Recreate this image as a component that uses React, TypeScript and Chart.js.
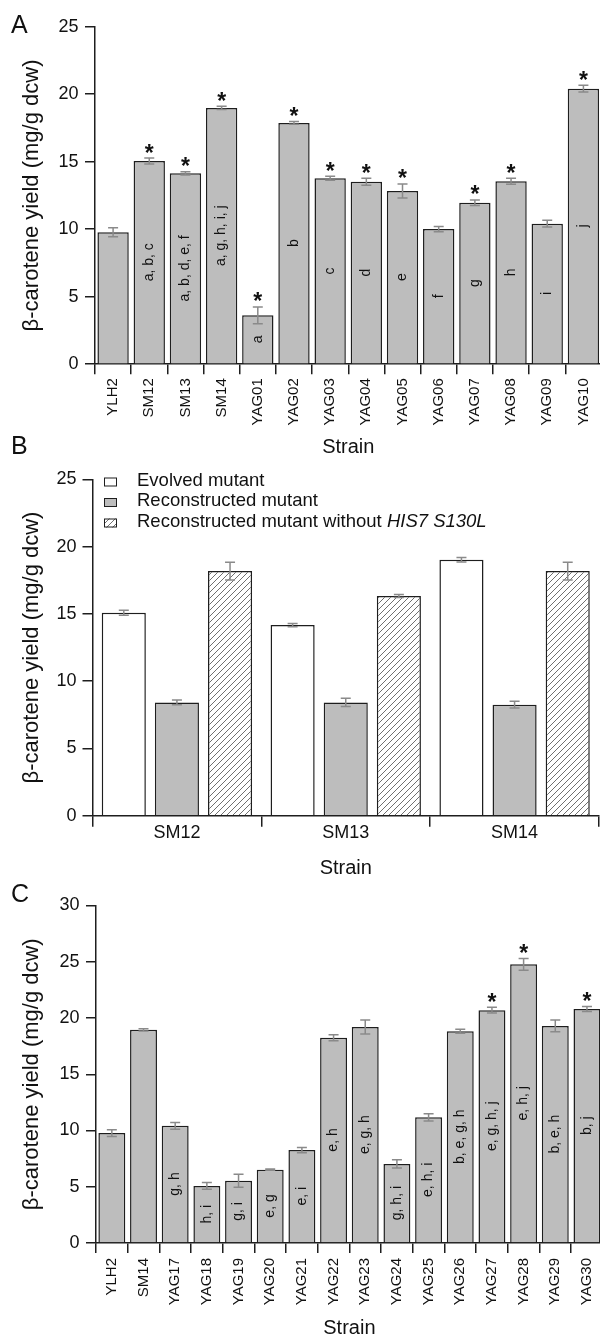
import React, { useEffect, useRef } from "react";
import { Chart, registerables } from "chart.js";

Chart.register(...registerables);

const FONT = "'Liberation Sans', Arial, Helvetica, sans-serif";
const AXIS = "#1e1e1e";
const TEXT = "#111111";
const GRAY = "#bdbdbd";
const ERR = "#8a8a8a";

// ---------- Panel A ----------
const strainsA = ["YLH2", "SM12", "SM13", "SM14", "YAG01", "YAG02", "YAG03", "YAG04", "YAG05", "YAG06", "YAG07", "YAG08", "YAG09", "YAG10"];
const yieldA = [9.77, 15.05, 14.14, 18.98, 3.62, 17.87, 13.77, 13.52, 12.83, 10.01, 11.96, 13.55, 10.41, 20.41];
const errA = [0.33, 0.22, 0.12, 0.12, 0.62, 0.1, 0.15, 0.26, 0.52, 0.19, 0.21, 0.22, 0.25, 0.25];
const lettersA = ["", "a, b, c", "a, b, d, e, f", "a, g, h, i, j", "a", "b", "c", "d", "e", "f", "g", "h", "i", "j"];
const starredA = ["SM12", "SM13", "SM14", "YAG01", "YAG02", "YAG03", "YAG04", "YAG05", "YAG07", "YAG08", "YAG10"];
const yTicksA = [0, 5, 10, 15, 20, 25];

// ---------- Panel B ----------
const groupsB = ["SM12", "SM13", "SM14"];
const evolvedB = [15.08, 14.17, 19.02];
const evolvedErrB = [0.19, 0.12, 0.16];
const reconB = [8.42, 8.42, 8.25];
const reconErrB = [0.17, 0.31, 0.25];
const noHisB = [18.18, 16.32, 18.18];
const noHisErrB = [0.66, 0.11, 0.66];
const legendB = ["Evolved mutant", "Reconstructed mutant", "Reconstructed mutant without"];
const legendItalicB = "HIS7 S130L";
const yTicksB = [0, 5, 10, 15, 20, 25];

// ---------- Panel C ----------
const strainsC = ["YLH2", "SM14", "YAG17", "YAG18", "YAG19", "YAG20", "YAG21", "YAG22", "YAG23", "YAG24", "YAG25", "YAG26", "YAG27", "YAG28", "YAG29", "YAG30"];
const yieldC = [9.77, 18.95, 10.42, 5.07, 5.54, 6.52, 8.26, 18.25, 19.2, 7.03, 11.17, 18.83, 20.7, 24.77, 19.3, 20.8];
const errC = [0.3, 0.1, 0.3, 0.3, 0.58, 0.05, 0.24, 0.27, 0.62, 0.37, 0.33, 0.18, 0.25, 0.52, 0.52, 0.22];
const lettersC = ["", "", "g, h", "h, i", "g, i", "e, g", "e, i", "e, h", "e, g, h", "g, h, i", "e, h, i", "b, e, g, h", "e, g, h, j", "e, h, j", "b, e, h", "b, j"];
const starredC = ["YAG27", "YAG28", "YAG30"];
const yTicksC = [0, 5, 10, 15, 20, 25, 30];

const Y_TITLE = "β-carotene yield (mg/g dcw)";
const X_TITLE = "Strain";

const errorBarPlugin = {
  id: "errorBars",
  afterDatasetsDraw(chart: any, _args: any, opts: any) {
    const ctx = chart.ctx;
    const ys = chart.scales.y;
    const cap = (opts && opts.cap) || 5;
    chart.data.datasets.forEach((ds: any, i: number) => {
      const errs = ds.errors;
      if (!errs) return;
      const meta = chart.getDatasetMeta(i);
      meta.data.forEach((bar: any, j: number) => {
        const v = ds.data[j];
        const e = errs[j];
        const t = ys.getPixelForValue(v + e);
        const b = ys.getPixelForValue(v - e);
        ctx.save();
        ctx.strokeStyle = ERR;
        ctx.lineWidth = 1.5;
        ctx.beginPath();
        ctx.moveTo(bar.x, t);
        ctx.lineTo(bar.x, b);
        ctx.moveTo(bar.x - cap, t);
        ctx.lineTo(bar.x + cap, t);
        ctx.moveTo(bar.x - cap, b);
        ctx.lineTo(bar.x + cap, b);
        ctx.stroke();
        ctx.restore();
      });
    });
  },
};

function panelLetterPlugin(letter: string, x: number, y: number) {
  return {
    id: "panelLetter" + letter,
    afterDraw(chart: any) {
      const ctx = chart.ctx;
      ctx.save();
      ctx.font = `25px ${FONT}`;
      ctx.fillStyle = TEXT;
      ctx.textAlign = "left";
      ctx.textBaseline = "alphabetic";
      ctx.fillText(letter, x, y);
      ctx.restore();
    },
  };
}

function strainAnnotations(labels: string[], letters: string[], starred: string[]) {
  return {
    id: "strainAnnotations",
    afterDatasetsDraw(chart: any) {
      const ctx = chart.ctx;
      const ys = chart.scales.y;
      const ds = chart.data.datasets[0];
      const meta = chart.getDatasetMeta(0);
      meta.data.forEach((bar: any, j: number) => {
        const txt = letters[j];
        if (txt) {
          ctx.save();
          ctx.translate(bar.x, (bar.y + bar.base) / 2);
          ctx.rotate(-Math.PI / 2);
          ctx.font = `14px ${FONT}`;
          ctx.fillStyle = TEXT;
          ctx.textAlign = "center";
          ctx.textBaseline = "middle";
          ctx.fillText(txt, 0, 0);
          ctx.restore();
        }
        if (starred.includes(labels[j])) {
          const top = ys.getPixelForValue(ds.data[j] + ds.errors[j]);
          ctx.save();
          ctx.font = `bold 23px ${FONT}`;
          ctx.fillStyle = TEXT;
          ctx.textAlign = "center";
          ctx.textBaseline = "alphabetic";
          ctx.fillText("*", bar.x, top + 2.5);
          ctx.restore();
        }
      });
    },
  };
}

function axisCommon(tickSize: number) {
  return {
    grid: {
      display: true,
      drawOnChartArea: false,
      drawTicks: true,
      tickLength: 10,
      color: AXIS,
      lineWidth: 1.5,
    },
    border: { display: true, color: AXIS, width: 1.5 },
    ticks: { color: TEXT, font: { size: tickSize, family: FONT } },
  };
}

function strainConfig(p: {
  labels: string[];
  values: number[];
  errors: number[];
  letters: string[];
  starred: string[];
  yTicks: number[];
  letter: string;
  letterY: number;
  H: number;
  top: number;
  bottom: number;
  left: number;
  right: number;
  W: number;
  barPct: number;
  xTitlePad: number;
  xTickPad: number;
}) {
  const base = axisCommon(18);
  return {
    type: "bar",
    data: {
      labels: p.labels,
      datasets: [
        {
          data: p.values,
          errors: p.errors,
          backgroundColor: GRAY,
          borderColor: AXIS,
          borderWidth: 1.5,
          barPercentage: p.barPct,
          categoryPercentage: 1,
        },
      ],
    },
    options: {
      responsive: false,
      animation: false,
      devicePixelRatio: 1,
      layout: { padding: { top: p.top, left: 0, right: p.W - p.right, bottom: 0 } },
      plugins: {
        legend: { display: false },
        tooltip: { enabled: false },
        errorBars: { cap: 5 },
      },
      scales: {
        x: {
          type: "category",
          offset: true,
          grid: { ...base.grid, offset: true },
          border: base.border,
          ticks: {
            autoSkip: false,
            minRotation: 90,
            maxRotation: 90,
            padding: p.xTickPad,
            color: TEXT,
            font: { size: 15, family: FONT },
          },
          title: {
            display: true,
            text: X_TITLE,
            color: TEXT,
            font: { size: 20, family: FONT },
            padding: { top: 0, bottom: p.xTitlePad },
          },
          afterFit: (s: any) => {
            s.height = p.H - p.bottom;
            s.paddingLeft = 0;
            s.paddingRight = 0;
          },
        },
        y: {
          min: 0,
          max: p.yTicks[p.yTicks.length - 1],
          afterBuildTicks: (s: any) => {
            s.ticks = p.yTicks.map((v) => ({ value: v }));
          },
          grid: base.grid,
          border: base.border,
          ticks: { ...base.ticks, padding: 6.5 },
          title: {
            display: true,
            text: Y_TITLE,
            color: TEXT,
            font: { size: 22, family: FONT },
            padding: { top: 19, bottom: 0 },
          },
          afterFit: (s: any) => {
            s.width = p.left;
            s.paddingTop = 0;
            s.paddingBottom = 0;
          },
        },
      },
    },
    plugins: [errorBarPlugin, strainAnnotations(p.labels, p.letters, p.starred), panelLetterPlugin(p.letter, 11, p.letterY)],
  };
}

function makeHatch(): CanvasPattern | string {
  const c = document.createElement("canvas");
  c.width = 6;
  c.height = 6;
  const g = c.getContext("2d");
  if (!g) return "#ffffff";
  g.fillStyle = "#ffffff";
  g.fillRect(0, 0, 6, 6);
  g.strokeStyle = "#707070";
  g.lineWidth = 1;
  g.beginPath();
  g.moveTo(0, 6);
  g.lineTo(6, 0);
  g.moveTo(-1, 1);
  g.lineTo(1, -1);
  g.moveTo(5, 7);
  g.lineTo(7, 5);
  g.stroke();
  return g.createPattern(c, "repeat") || "#ffffff";
}

function bConfig(hatch: any) {
  const W = 604;
  const H = 450;
  const top = 49.3;
  const bottom = 385.7;
  const left = 92.5;
  const right = 599;
  const base = axisCommon(18);
  const fills = ["#ffffff", GRAY, hatch];
  const legendPlugin = {
    id: "legendB",
    afterDraw(chart: any) {
      const ctx = chart.ctx;
      const rows = [50.5, 71, 91.5];
      ctx.save();
      rows.forEach((ry, i) => {
        ctx.fillStyle = fills[i];
        ctx.fillRect(104, ry - 3, 13, 9);
        ctx.strokeStyle = AXIS;
        ctx.lineWidth = 1;
        ctx.strokeRect(104.5, ry - 2.5, 12, 8);
        ctx.fillStyle = TEXT;
        ctx.textAlign = "left";
        ctx.textBaseline = "middle";
        ctx.font = `18.5px ${FONT}`;
        const t = legendB[i];
        ctx.fillText(t, 137, ry);
        if (i === 2) {
          const w = ctx.measureText(t + " ").width;
          ctx.font = `italic 18.5px ${FONT}`;
          ctx.fillText(legendItalicB, 137 + w, ry);
        }
      });
      ctx.restore();
    },
  };
  const ds = (label: string, data: number[], errors: number[], fill: any) => ({
    label,
    data,
    errors,
    backgroundColor: fill,
    borderColor: AXIS,
    borderWidth: 1.5,
    barPercentage: 0.83,
    categoryPercentage: 0.944,
  });
  return {
    type: "bar",
    data: {
      labels: groupsB,
      datasets: [
        ds(legendB[0], evolvedB, evolvedErrB, fills[0]),
        ds(legendB[1], reconB, reconErrB, fills[1]),
        ds(legendB[2] + " " + legendItalicB, noHisB, noHisErrB, fills[2]),
      ],
    },
    options: {
      responsive: false,
      animation: false,
      devicePixelRatio: 1,
      layout: { padding: { top, left: 0, right: W - right, bottom: 0 } },
      plugins: {
        legend: { display: false },
        tooltip: { enabled: false },
        errorBars: { cap: 5 },
      },
      scales: {
        x: {
          type: "category",
          offset: true,
          grid: { ...base.grid, offset: true, tickLength: 11 },
          border: base.border,
          ticks: { autoSkip: false, maxRotation: 0, minRotation: 0, padding: -4.5, color: TEXT, font: { size: 18, family: FONT } },
          title: { display: true, text: X_TITLE, color: TEXT, font: { size: 20, family: FONT }, padding: { top: 0, bottom: 0 } },
          afterFit: (s: any) => {
            s.height = H - bottom;
            s.paddingLeft = 0;
            s.paddingRight = 0;
          },
        },
        y: {
          min: 0,
          max: 25,
          afterBuildTicks: (s: any) => {
            s.ticks = yTicksB.map((v) => ({ value: v }));
          },
          grid: base.grid,
          border: base.border,
          ticks: { ...base.ticks, padding: 6 },
          title: { display: true, text: Y_TITLE, color: TEXT, font: { size: 22, family: FONT }, padding: { top: 19, bottom: 0 } },
          afterFit: (s: any) => {
            s.width = left;
            s.paddingTop = 0;
            s.paddingBottom = 0;
          },
        },
      },
    },
    plugins: [errorBarPlugin, legendPlugin, panelLetterPlugin("B", 11, 23.5)],
  };
}

export default function App() {
  const refA = useRef<HTMLCanvasElement>(null);
  const refB = useRef<HTMLCanvasElement>(null);
  const refC = useRef<HTMLCanvasElement>(null);

  useEffect(() => {
    Chart.defaults.font.family = FONT;
    Chart.defaults.color = TEXT;
    const hatch = makeHatch();
    const charts: Chart[] = [];
    if (refA.current) {
      charts.push(
        new Chart(
          refA.current,
          strainConfig({
            labels: strainsA,
            values: yieldA,
            errors: errA,
            letters: lettersA,
            starred: starredA,
            yTicks: yTicksA,
            letter: "A",
            letterY: 33.3,
            H: 470,
            W: 604,
            top: 26.7,
            bottom: 364.2,
            left: 95,
            right: 601.5,
            barPct: 0.866,
            xTitlePad: 11,
            xTickPad: 4,
          }) as any
        )
      );
    }
    if (refB.current) charts.push(new Chart(refB.current, bConfig(hatch) as any));
    if (refC.current) {
      charts.push(
        new Chart(
          refC.current,
          strainConfig({
            labels: strainsC,
            values: yieldC,
            errors: errC,
            letters: lettersC,
            starred: starredC,
            yTicks: yTicksC,
            letter: "C",
            letterY: 22,
            H: 458,
            W: 606,
            top: 25.5,
            bottom: 363,
            left: 96,
            right: 602.8,
            barPct: 0.85,
            xTitlePad: -2,
            xTickPad: 5,
          }) as any
        )
      );
    }
    return () => charts.forEach((c) => c.destroy());
  }, []);

  return (
    <div
      style={{
        position: "absolute",
        left: 0,
        top: 0,
        width: 600,
        height: 1338,
        overflow: "hidden",
        background: "#ffffff",
      }}
    >
      <canvas ref={refA} width={604} height={470} style={{ position: "absolute", left: 0, top: 0, width: 604, height: 470 }} />
      <canvas ref={refB} width={604} height={450} style={{ position: "absolute", left: 0, top: 430, width: 604, height: 450 }} />
      <canvas ref={refC} width={606} height={458} style={{ position: "absolute", left: 0, top: 880, width: 606, height: 458 }} />
    </div>
  );
}
